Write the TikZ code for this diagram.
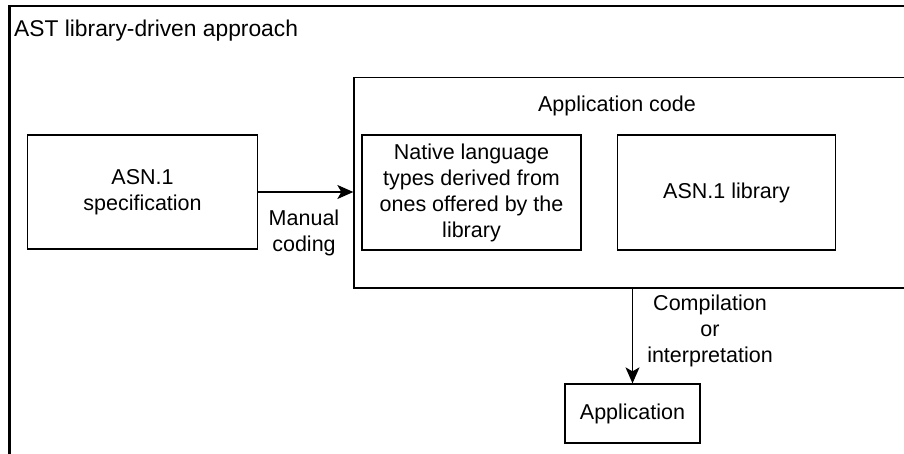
\documentclass[tikz,border=0pt]{standalone}
\usepackage{fontspec}
\setmainfont{Liberation Sans}
\usetikzlibrary{arrows.meta}
\begin{document}
\begin{tikzpicture}[x=1pt,y=-1pt,
  box/.style={draw, line width=1.3pt, align=center, inner sep=0pt, font=\fontsize{21.5}{26}\selectfont},
  lbl/.style={align=center, inner sep=0pt, font=\fontsize{21.5}{26}\selectfont},
  arr/.style={-{Stealth[length=16pt,width=14pt,inset=4pt]}, line width=1.3pt}]
\useasboundingbox (0,0) rectangle (904,453);
\clip (0,0) rectangle (904,453);
\fill[white] (0,0) rectangle (904,453);
\coordinate (fbl) at (9.5,470);
\coordinate (ftl) at (9.5,6);
\coordinate (ftr) at (920,6);
\draw[line width=2.2pt] (fbl) -- (ftl) -- (ftr);
\node[lbl, anchor=base west, font=\fontsize{22.8}{27}\selectfont] (title) at (14,36) {AST library-driven approach};
\node[box, minimum width=230pt, minimum height=114pt] (spec) at (142.5,192) {ASN.1\\specification};
\node[box, minimum width=576pt, minimum height=210.5pt] (appcode) at (642,182.75) {};
\node[lbl] (appcodelbl) at (617,106) {Application code};
\node[box, minimum width=219pt, minimum height=115pt] (native) at (471.5,192.5) {Native language\\types derived from\\ones offered by the\\library};
\node[box, minimum width=218.5pt, minimum height=115pt] (lib) at (726.5,192.5) {ASN.1 library};
\node[box, minimum width=135pt, minimum height=59pt] (app) at (632.5,413.5) {Application};
\draw[arr] (spec.east) -- (spec.east -| appcode.west);
\node[lbl] (manual) at (304,233) {Manual\\coding};
\draw[arr] (app.north |- appcode.south) -- (app.north);
\node[lbl] (comp) at (710,331) {Compilation\\or\\interpretation};
\end{tikzpicture}
\end{document}
